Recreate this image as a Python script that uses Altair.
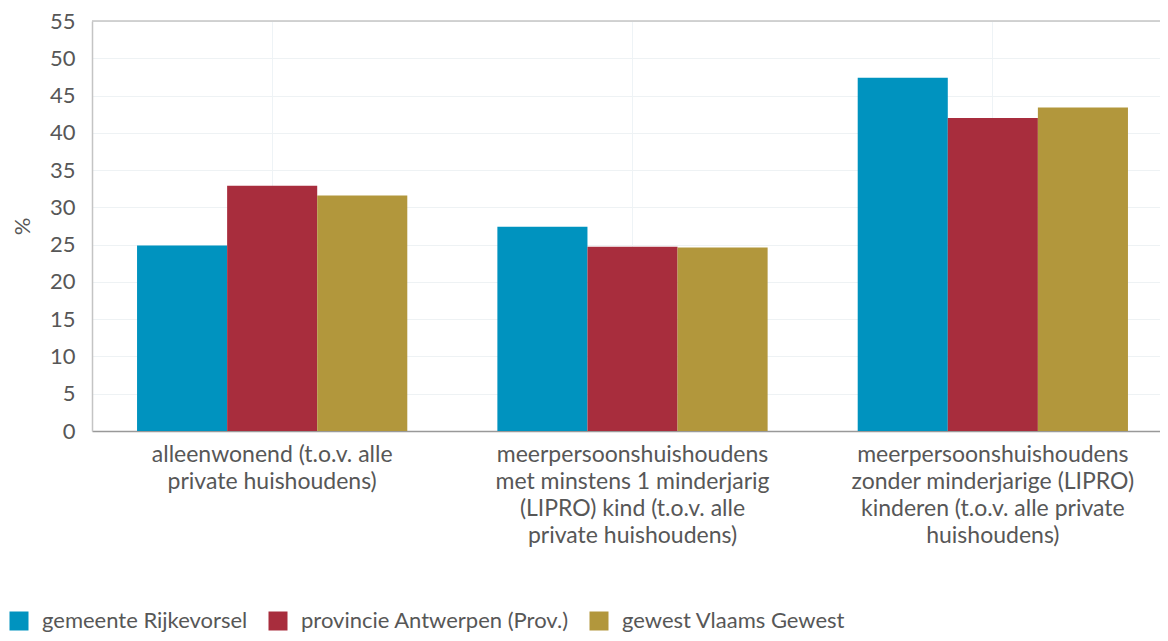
import altair as alt
import pandas as pd

categories = [
    "alleenwonend (t.o.v. alle private huishoudens)",
    "meerpersoonshuishoudens met minstens 1 minderjarig (LIPRO) kind (t.o.v. alle private huishoudens)",
    "meerpersoonshuishoudens zonder minderjarige (LIPRO) kinderen (t.o.v. alle private huishoudens)",
]
label_lines = [
    ["alleenwonend (t.o.v. alle", "private huishoudens)"],
    ["meerpersoonshuishoudens", "met minstens 1 minderjarig", "(LIPRO) kind (t.o.v. alle", "private huishoudens)"],
    ["meerpersoonshuishoudens", "zonder minderjarige (LIPRO)", "kinderen (t.o.v. alle private", "huishoudens)"],
]
series = ["gemeente Rijkevorsel", "provincie Antwerpen (Prov.)", "gewest Vlaams Gewest"]
colors = ["#0093BF", "#A82D3D", "#B2973C"]
values_rijkevorsel = [24.9, 27.4, 47.4]
values_antwerpen = [32.9, 24.7, 42.0]
values_vlaanderen = [31.6, 24.6, 43.4]
y_ticks = list(range(0, 56, 5))
y_max = 55

rows = []
for s, vals in zip(series, [values_rijkevorsel, values_antwerpen, values_vlaanderen]):
    for c, v in zip(categories, vals):
        rows.append({"categorie": c, "reeks": s, "waarde": v})
df = pd.DataFrame(rows)

label_map = "{" + ",".join(
    '"%s": [%s]' % (c, ",".join('"%s"' % l for l in ls)) for c, ls in zip(categories, label_lines)
) + "}"

font = "Lato"
txt = "#575757"

y_enc = alt.Y(
    "waarde:Q",
    title="%",
    scale=alt.Scale(domain=[0, y_max], nice=False),
    axis=alt.Axis(
        values=y_ticks,
        labelFontSize=22,
        labelColor=txt,
        labelFont=font,
        labelPadding=17,
        labelOverlap=False,
        labelFlush=False,
        ticks=False,
        domainColor="#c4c4c4",
        domainWidth=1.5,
        gridColor="#eef2f4",
        titleFontSize=22,
        titleFontWeight="normal",
        titleColor=txt,
        titleFont=font,
        titlePadding=15,
    ),
)

bars = alt.Chart(df).mark_bar().encode(
    x=alt.X(
        "categorie:N",
        sort=categories,
        title=None,
        scale=alt.Scale(paddingInner=0.25, paddingOuter=0.125, range=[0, 1081]),
        axis=alt.Axis(
            labelAngle=0,
            labelExpr=label_map + "[datum.value]",
            labelFontSize=23,
            labelColor=txt,
            labelFont=font,
            labelLineHeight=27,
            labelPadding=12,
            labelOverlap=False,
            ticks=False,
            domainColor="#999999",
            domainWidth=1.5,
            grid=True,
            gridColor="#eef3f6",
            labelLimit=500,
        ),
    ),
    xOffset=alt.XOffset("reeks:N", sort=series),
    y=y_enc,
    color=alt.Color(
        "reeks:N",
        sort=series,
        scale=alt.Scale(domain=series, range=colors),
        legend=alt.Legend(
            title=None,
            orient="none",
            legendX=-84,
            legendY=589,
            direction="horizontal",
            symbolType="square",
            symbolSize=361,
            symbolStrokeWidth=0,
            symbolOpacity=1,
            labelFontSize=22,
            labelColor=txt,
            labelFont=font,
            columnPadding=19,
            labelOffset=12,
            labelLimit=400,
        ),
    ),
)

top_line = alt.Chart(pd.DataFrame({"waarde": [y_max]})).mark_rule(
    color="#c4c4c4", strokeWidth=1.5
).encode(y=y_enc)

chart = alt.layer(bars, top_line).properties(
    width=1068,
    height=410,
    padding={"left": 84, "top": 13, "right": 0, "bottom": 202},
    autosize=alt.AutoSizeParams(type="none"),
).configure_view(
    strokeWidth=0,
)

chart.save("out.html", embed_options={"renderer": "svg", "actions": False})
